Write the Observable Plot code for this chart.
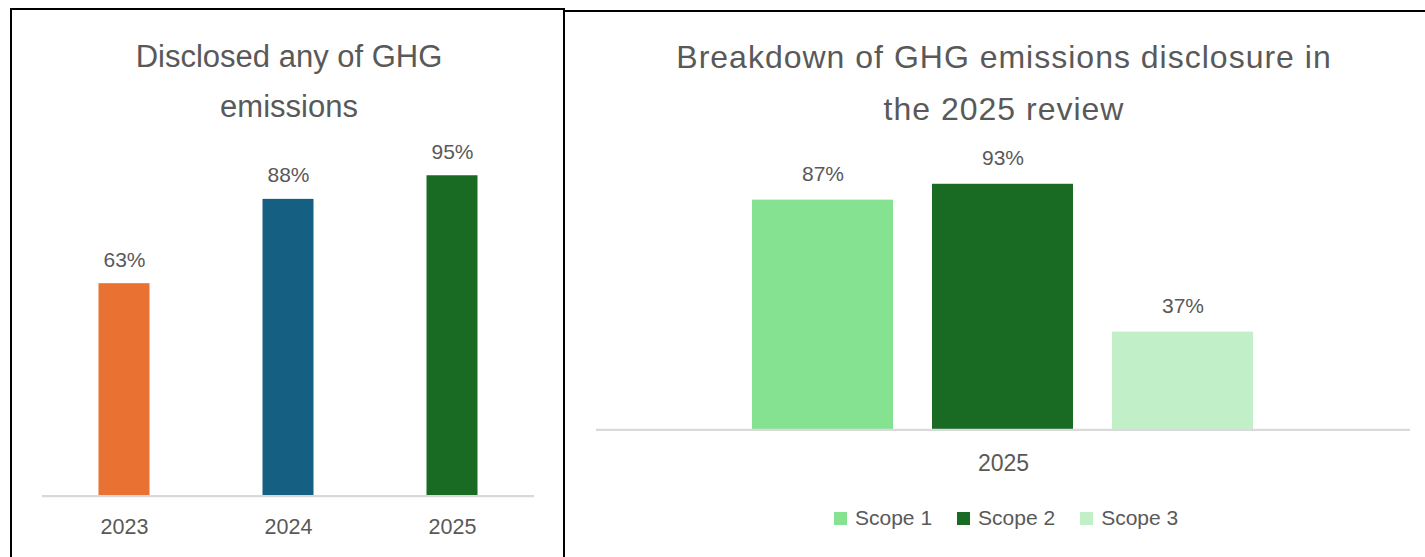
<!DOCTYPE html>
<html>
<head>
<meta charset="utf-8">
<script src="https://cdn.jsdelivr.net/npm/d3@7"></script>
<script src="https://cdn.jsdelivr.net/npm/@observablehq/plot@0.6"></script>
<style>
  html, body { margin: 0; padding: 0; background: #fff; }
  #page { position: relative; width: 1425px; height: 557px; overflow: hidden; background: #fff;
          font-family: "Liberation Sans", Arial, sans-serif; color: #595959; }
  .panel { position: absolute; border: 2px solid #000; box-sizing: border-box; }
  .title { position: absolute; text-align: center; white-space: nowrap; color: #595959; }
  .abs { position: absolute; }
  .abs svg { max-width: none; }
  #legend { position: absolute; display: flex; align-items: center; font-size: 21px; line-height: 21px; color: #595959; }
  #legend .item { display: flex; align-items: center; margin-right: 25px; }
  #legend .sw { width: 13px; height: 13px; margin-right: 8px; position: relative; top: 1px; }
</style>
</head>
<body>
<div id="page">
  <div class="panel" style="left:10px; top:8px; width:555px; height:620px;"></div>
  <div class="panel" style="left:563px; top:10px; width:900px; height:620px;"></div>
  <div class="title" style="left:89px; width:400px; top:32px; font-size:31px; line-height:50px;">Disclosed any of GHG<br>emissions</div>
  <div class="title" style="left:604px; width:800px; top:30.6px; font-size:32px; line-height:52px; letter-spacing:1px;">Breakdown of GHG emissions disclosure in<br>the 2025 review</div>
  <div id="left" class="abs" style="left:0px; top:130px;"></div>
  <div id="right" class="abs" style="left:563px; top:130px;"></div>
  <div id="legend" style="left:834px; top:507px;"></div>
</div>
<script>
// ---- data ----
const years = ["2023", "2024", "2025"];
const disclosed = [63, 88, 95];
const yearColors = ["#E97132", "#156082", "#196B24"];

const scopes = ["Scope 1", "Scope 2", "Scope 3"];
const scopeValues = [87, 93, 37];
const scopeColors = ["#84E291", "#196B24", "#C1F0C8"];
const reviewYear = "2025";

const dataL = years.map((year, i) => ({year, value: disclosed[i]}));
const dataR = scopes.map((scope, i) => ({year: reviewYear, scope, value: scopeValues[i]}));

const fontFam = '"Liberation Sans", Arial, sans-serif';

// ---- left chart ----
const left = Plot.plot({
  width: 563,
  height: 427,
  marginLeft: 42,
  marginRight: 29,
  marginTop: 28.4,
  marginBottom: 61.3,
  style: {background: "transparent", fontFamily: fontFam, fontSize: "21.5px", color: "#595959", overflow: "visible"},
  x: {domain: years, padding: 0, label: null, tickSize: 0, tickPadding: 23},
  y: {domain: [0, 100], axis: null},
  color: {domain: years, range: yearColors},
  marks: [
    Plot.barY(dataL, {x: "year", y: "value", fill: "year", insetLeft: 56.5, insetRight: 56.5}),
    Plot.ruleY([0], {stroke: "#D9D9D9", strokeWidth: 2.2}),
    Plot.text(dataL, {x: "year", y: "value", text: d => d.value + "%", dy: -17, lineAnchor: "bottom",
                      fill: "#595959", fontSize: 21})
  ]
});
document.getElementById("left").appendChild(left);

// ---- right chart ----
const right = Plot.plot({
  width: 862,
  height: 427,
  marginLeft: 33,
  marginRight: 15,
  marginTop: 35.3,
  marginBottom: 127.7,
  style: {background: "transparent", fontFamily: fontFam, fontSize: "23px", color: "#595959", overflow: "visible"},
  fx: {domain: [reviewYear], padding: 0, label: null, axis: "bottom", tickSize: 0, tickPadding: 25},
  x: {domain: scopes, paddingInner: 0.2144, paddingOuter: 0.859, axis: null},
  y: {domain: [0, 100], axis: null},
  color: {domain: scopes, range: scopeColors},
  marks: [
    Plot.barY(dataR, {fx: "year", x: "scope", y: "value", fill: "scope"}),
    Plot.ruleY([0], {stroke: "#D9D9D9", strokeWidth: 2.2}),
    Plot.text(dataR, {fx: "year", x: "scope", y: "value", text: d => d.value + "%", dy: -19.5, lineAnchor: "bottom",
                      fill: "#595959", fontSize: 21})
  ]
});
document.getElementById("right").appendChild(right);

// ---- legend ----
const legend = document.getElementById("legend");
scopes.forEach((s, i) => {
  const item = document.createElement("div");
  item.className = "item";
  const sw = document.createElement("span");
  sw.className = "sw";
  sw.style.background = scopeColors[i];
  const label = document.createElement("span");
  label.textContent = s;
  item.appendChild(sw);
  item.appendChild(label);
  legend.appendChild(item);
});
</script>
</body>
</html>
